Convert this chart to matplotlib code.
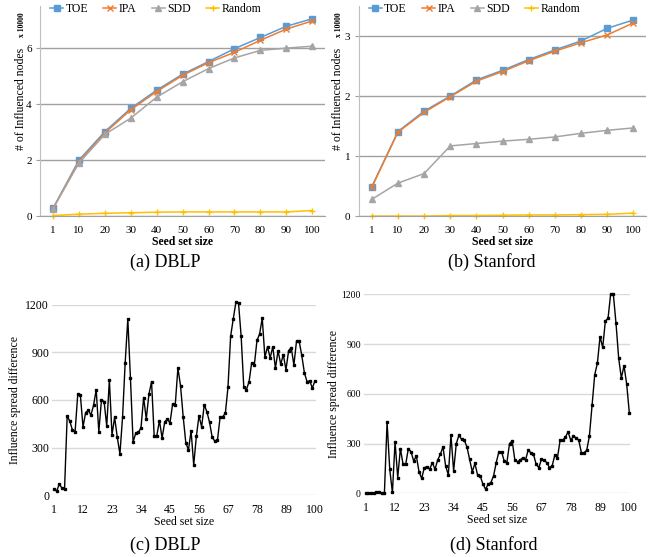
import numpy as np
import matplotlib
matplotlib.use("Agg")
import matplotlib.pyplot as plt

plt.rcParams["font.family"] = ["Liberation Serif", "DejaVu Serif"]

# ---------------------------
# data
# ---------------------------

seed_labels = ["1", "10", "20", "30", "40", "50", "60", "70", "80", "90", "100"]

# influenced nodes, in units of 10000
dblp_toe = [0.28, 2.00, 3.02, 3.85, 4.50, 5.07, 5.52, 5.98, 6.38, 6.78, 7.05]
dblp_ipa = [0.27, 1.95, 2.97, 3.80, 4.45, 5.03, 5.48, 5.85, 6.28, 6.68, 6.97]
dblp_sdd = [0.27, 1.90, 2.92, 3.50, 4.25, 4.80, 5.27, 5.65, 5.92, 6.00, 6.07]
dblp_rnd = [0.02, 0.07, 0.10, 0.12, 0.14, 0.15, 0.15, 0.15, 0.15, 0.15, 0.20]

stan_toe = [0.49, 1.41, 1.75, 2.00, 2.27, 2.43, 2.61, 2.77, 2.92, 3.13, 3.27]
stan_ipa = [0.48, 1.40, 1.73, 1.99, 2.25, 2.41, 2.59, 2.75, 2.89, 3.02, 3.22]
stan_sdd = [0.28, 0.55, 0.71, 1.17, 1.21, 1.25, 1.28, 1.32, 1.38, 1.43, 1.47]
stan_rnd = [0.00, 0.00, 0.00, 0.01, 0.01, 0.015, 0.02, 0.02, 0.025, 0.03, 0.05]

seed_sizes = np.arange(1, 101)
diff_ticks = [1, 12, 23, 34, 45, 56, 67, 78, 89, 100]

dblp_diff = [
    40, 25, 70, 45, 40, 500, 465, 410, 400, 635,
    630, 430, 520, 535, 505, 565, 665, 400, 600, 590,
    435, 725, 380, 490, 365, 260, 490, 835, 1110, 735,
    335, 390, 395, 425, 615, 480, 635, 715, 375, 375,
    470, 360, 460, 480, 455, 575, 570, 800, 690, 495,
    330, 285, 405, 190, 370, 500, 430, 570, 525, 460,
    365, 340, 345, 490, 495, 515, 680, 1000, 1110, 1215,
    1210, 1000, 680, 665, 715, 835, 820, 975, 1015, 1115,
    870, 935, 865, 935, 800, 910, 825, 885, 790, 910,
    930, 820, 970, 970, 880, 770, 715, 720, 675, 720,
]

stan_diff = [
    0, 0, 0, 2, 5, 5, 3, 2, 430, 145,
    5, 310, 95, 270, 175, 175, 270, 250, 195, 225,
    130, 90, 155, 160, 145, 185, 145, 200, 235, 280,
    165, 110, 350, 135, 300, 350, 325, 320, 280, 205,
    130, 180, 110, 105, 55, 25, 55, 65, 105, 185,
    250, 250, 195, 185, 300, 315, 200, 190, 200, 215,
    200, 260, 245, 235, 175, 155, 205, 200, 185, 155,
    165, 230, 215, 320, 320, 340, 370, 320, 345, 335,
    320, 245, 245, 260, 345, 530, 715, 785, 945, 880,
    1040, 1055, 1205, 1200, 1025, 815, 695, 770, 660, 485,
]

# ---------------------------
# styles
# ---------------------------

series_style = [
    ("TOE", "#5b9bd5", "s"),
    ("IPA", "#ed7d31", "x"),
    ("SDD", "#a5a5a5", "^"),
    ("Random", "#ffc000", "+"),
]


def top_panel(ax, series, ymax, yticks, legend_x, label_x):
    for (name, color, marker), vals in zip(series_style, series):
        ax.plot(seed_labels, vals, color=color, marker=marker, markersize=4,
                markeredgewidth=1.0, linewidth=1.1, label=name, clip_on=False)
    ax.set_xlim(-0.5, len(seed_labels) - 0.5)
    ax.set_ylim(0, ymax)
    ax.set_yticks(yticks)
    ax.yaxis.grid(True, color="#a0a0a0", linewidth=1.0)
    ax.set_axisbelow(True)
    for s in ("top", "right"):
        ax.spines[s].set_visible(False)
    ax.spines["left"].set_color("#bfbfbf")
    ax.spines["bottom"].set_color("#a0a0a0")
    ax.tick_params(axis="x", length=0, labelsize=8, pad=7)
    ax.tick_params(axis="y", length=3, color="#a0a0a0", labelsize=8, pad=3)
    ax.set_xlabel("Seed set size", fontsize=8.5, fontweight="bold", labelpad=1)
    ax.set_ylabel("# of Influenced nodes", fontsize=8.5)
    ax.yaxis.set_label_coords(label_x + 0.018, 0.56)
    ax.text(label_x, 0.91, "x 10000", transform=ax.transAxes, rotation=90,
            fontsize=5.5, fontweight="bold", ha="center", va="center")
    ax.legend(loc="center left", bbox_to_anchor=(legend_x, 0.985), ncol=4,
              frameon=False, fontsize=8.5, handlelength=1.1, handletextpad=0.2,
              columnspacing=1.3, borderaxespad=0, borderpad=0)


def bottom_panel(ax, vals, ytick_size, labelpad):
    ax.plot(seed_sizes, vals, color="black", marker="s", markersize=2,
            linewidth=1.0, clip_on=False)
    ax.set_xlim(0.2, 100.4)
    ax.set_ylim(0, 1200)
    ax.set_yticks([0, 300, 600, 900, 1200])
    ax.set_xticks(diff_ticks)
    ax.yaxis.grid(True, color="#d9d9d9", linewidth=1.0)
    ax.set_axisbelow(True)
    for s in ax.spines.values():
        s.set_visible(False)
    ax.tick_params(length=0)
    ax.tick_params(axis="x", pad=6, labelsize=8.5)
    ax.tick_params(axis="y", pad=2, labelsize=ytick_size)
    ax.set_xlabel("Seed set size", fontsize=8.5, labelpad=0)
    ax.set_ylabel("Influence spread difference", fontsize=8.5, labelpad=labelpad)


fig = plt.figure(figsize=(6.57, 5.57), dpi=100)

ax_a = fig.add_axes([0.061, 0.612, 0.434, 0.377])
ax_b = fig.add_axes([0.546, 0.612, 0.438, 0.377])
ax_c = fig.add_axes([0.079, 0.111, 0.402, 0.342])
ax_d = fig.add_axes([0.5535, 0.1144, 0.406, 0.357])

top_panel(ax_a, [dblp_toe, dblp_ipa, dblp_sdd, dblp_rnd], 7.5, [0, 2, 4, 6], 0.035, -0.063)
top_panel(ax_b, [stan_toe, stan_ipa, stan_sdd, stan_rnd], 3.5, [0, 1, 2, 3], 0.035, -0.069)
bottom_panel(ax_c, dblp_diff, 8.5, 3)
bottom_panel(ax_d, stan_diff, 7, 1)

fig.text(0.252, 1 - 262 / 557, "(a) DBLP", fontsize=13, ha="center", va="center")
fig.text(0.749, 1 - 262 / 557, "(b) Stanford", fontsize=13, ha="center", va="center")
fig.text(0.252, 1 - 545 / 557, "(c) DBLP", fontsize=13, ha="center", va="center")
fig.text(0.751, 1 - 545 / 557, "(d) Stanford", fontsize=13, ha="center", va="center")

fig.savefig("out.png", dpi=100)
